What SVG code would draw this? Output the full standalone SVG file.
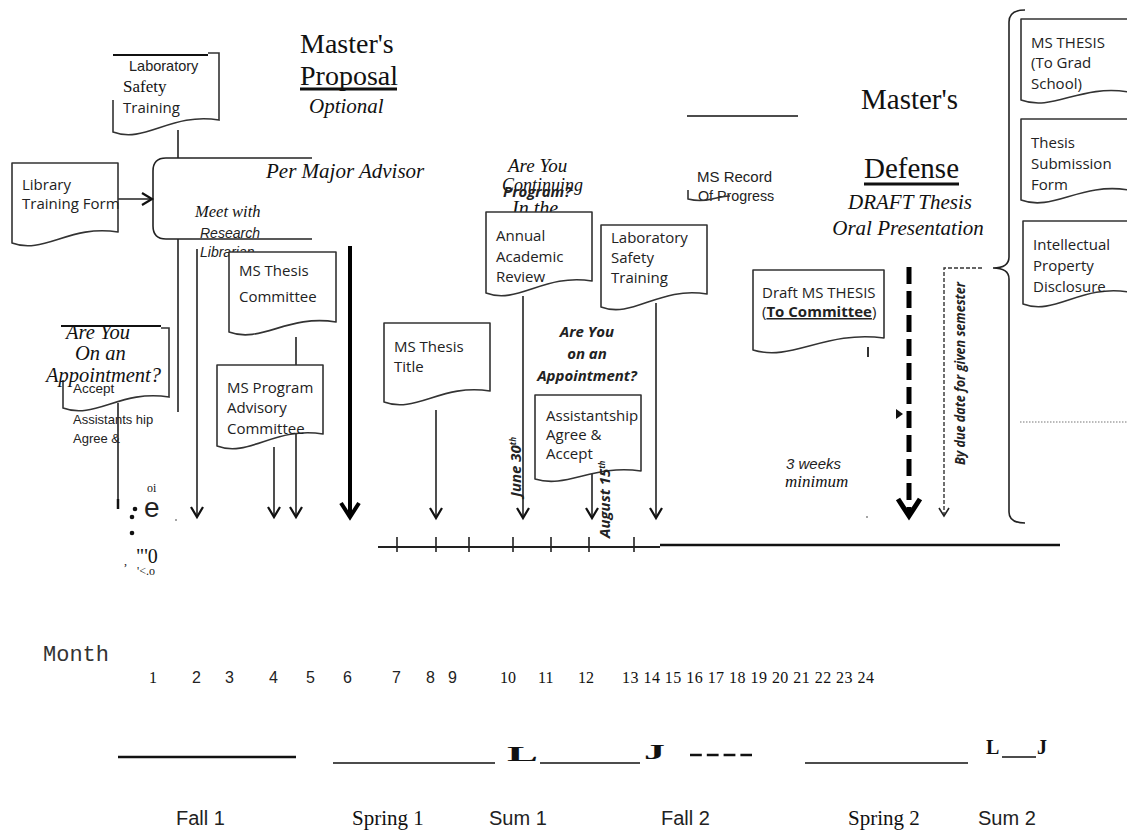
<svg xmlns="http://www.w3.org/2000/svg" width="1127" height="834" viewBox="0 0 1127 834">
<style>
.doc{fill:#fff;stroke:#333;stroke-width:1.6;stroke-linejoin:round}
.open{fill:none;stroke:#333;stroke-width:1.6}
.t{font-family:"Open Sans","Noto Sans",sans-serif;font-size:15px;fill:#222}
.ar{font-family:"Liberation Sans",Arial,sans-serif;fill:#222}
.se{font-family:"Liberation Serif","Times New Roman",serif;fill:#111}
.mo{font-family:"Liberation Mono","Courier New",monospace;fill:#333}
.it{font-style:italic}
.bi{font-style:italic;font-weight:bold}
.c{stroke:#222;stroke-width:1.6;fill:none}
.bar{stroke:#111;fill:none}
</style>
<defs>
<marker id="ah" markerUnits="userSpaceOnUse" orient="auto" overflow="visible" markerWidth="1" markerHeight="1"><path d="M -10 -6 L 0 0 L -10 6" fill="none" stroke="#111" stroke-width="2.2"/></marker>
<marker id="ahb" markerUnits="userSpaceOnUse" orient="auto" overflow="visible" markerWidth="1" markerHeight="1"><path d="M -14 -9 L 0 0 L -14 9" fill="none" stroke="#000" stroke-width="4"/></marker>
<marker id="ahd" markerUnits="userSpaceOnUse" orient="auto" overflow="visible" markerWidth="1" markerHeight="1"><path d="M -17 -11 L 0 0 L -17 11" fill="none" stroke="#000" stroke-width="5"/></marker>
<marker id="ahs" markerUnits="userSpaceOnUse" orient="auto" overflow="visible" markerWidth="1" markerHeight="1"><path d="M -8 -5 L 0 0 L -8 5" fill="none" stroke="#222" stroke-width="1.6"/></marker>
</defs>

<!-- headings -->
<g id="heading-proposal">
<text class="se" x="300" y="53" font-size="28">Master's</text>
<text class="se" x="300" y="85" font-size="28">Proposal</text>
<line x1="300" y1="89" x2="397" y2="89" stroke="#111" stroke-width="3"/>
<text class="se it" x="309" y="113" font-size="21">Optional</text>
</g>
<g id="heading-defense">
<line x1="687" y1="116" x2="798" y2="116" stroke="#111" stroke-width="1.6"/>
<text class="se" x="861" y="109" font-size="29">Master's</text>
<text class="se" x="864" y="178" font-size="29">Defense</text>
<line x1="864" y1="184" x2="959" y2="184" stroke="#111" stroke-width="3"/>
<text class="se it" x="910" y="209" font-size="21" text-anchor="middle">DRAFT Thesis</text>
<text class="se it" x="908" y="235" font-size="21" text-anchor="middle">Oral Presentation</text>
</g>

<!-- connectors -->
<g id="connectors">
<line class="c" x1="178" y1="130" x2="178" y2="158"/>
<path class="c" d="M 192 158 H 166 Q 153 158 153 171 V 226 Q 153 239 166 239 H 192"/>
<line class="c" x1="192" y1="158" x2="312" y2="158"/>
<line class="c" x1="192" y1="239" x2="312" y2="239"/>
<line class="c" x1="118" y1="199" x2="152" y2="199" marker-end="url(#ah)"/>
<line class="c" x1="178" y1="239" x2="178" y2="412"/>
<line class="c" x1="197" y1="249" x2="197" y2="517" marker-end="url(#ah)"/>
<line class="c" x1="296" y1="337" x2="296" y2="365"/>
<line class="c" x1="274" y1="447" x2="274" y2="517" marker-end="url(#ah)"/>
<line class="c" x1="296" y1="432" x2="296" y2="517" stroke-width="2" marker-end="url(#ah)"/>
<line x1="350" y1="246" x2="350" y2="517" stroke="#000" stroke-width="4" marker-end="url(#ahb)"/>
<line class="c" x1="118" y1="403" x2="118" y2="509"/>
<line x1="118" y1="499" x2="118" y2="509" stroke="#111" stroke-width="2.5"/>
<line class="c" x1="436" y1="410" x2="436" y2="518" marker-end="url(#ah)"/>
<line class="c" x1="523" y1="296" x2="523" y2="518" marker-end="url(#ah)"/>
<line class="c" x1="592" y1="472" x2="592" y2="518" marker-end="url(#ah)"/>
<line class="c" x1="656" y1="303" x2="656" y2="518" marker-end="url(#ah)"/>
<line x1="909" y1="267" x2="909" y2="516" stroke="#000" stroke-width="5" stroke-dasharray="17 7" marker-end="url(#ahd)"/>
<polygon points="896,409 903,414 896,419" fill="#111"/>
<path d="M 982 268 H 944 V 516" fill="none" stroke="#333" stroke-width="1.4" stroke-dasharray="4 2" marker-end="url(#ahs)"/>
<path class="c" d="M 1025 10 Q 1009 10 1009 22 V 257 Q 1009 268 993 268 Q 1009 268 1009 279 V 512 Q 1009 523 1025 523"/>
<line x1="1020" y1="422" x2="1127" y2="422" stroke="#777" stroke-width="1.2" stroke-dasharray="1.5 1.5"/>
<line x1="868" y1="347" x2="868" y2="357" stroke="#333" stroke-width="2"/>
<!-- timeline -->
<line x1="378" y1="547" x2="660" y2="547" stroke="#222" stroke-width="2"/>
<line x1="660" y1="545" x2="1060" y2="545" stroke="#111" stroke-width="2.6"/>
<g stroke="#222" stroke-width="1.6">
<line x1="397" y1="537" x2="397" y2="552"/>
<line x1="436" y1="537" x2="436" y2="552"/>
<line x1="469" y1="537" x2="469" y2="552"/>
<line x1="513" y1="537" x2="513" y2="552"/>
<line x1="551" y1="537" x2="551" y2="552"/>
<line x1="589" y1="537" x2="589" y2="552"/>
<line x1="634" y1="537" x2="634" y2="552"/>
</g>
</g>

<!-- nodes -->
<g id="lab-safety-1">
<line x1="113" y1="55" x2="208" y2="55" stroke="#111" stroke-width="2"/>
<path class="open" d="M 208 53 H 219 V 120 C 171 112, 145 144, 113 132 V 100"/>
<text class="ar" x="129" y="71" font-size="14.5">Laboratory</text>
<text class="se" x="123" y="92" font-size="17">Safety</text>
<text class="t" x="123" y="113">Training</text>
</g>
<g id="library-form">
<path class="doc" d="M 12 243 C 44 255, 70 224, 118 232 V 163 H 12 Z"/>
<text class="t" x="22" y="190" font-size="14">Library</text>
<text class="t" x="22" y="209" font-size="13.6">Training Form</text>
</g>
<g id="per-major-advisor">
<text class="se it" x="266" y="178" font-size="21">Per Major Advisor</text>
<text class="se it" x="195" y="217" font-size="16.5">Meet with</text>
<text class="ar it" x="200" y="238" font-size="14">Research</text>
<text class="ar it" x="200" y="257" font-size="14">Librarian</text>
</g>
<g id="ms-thesis-committee">
<path class="doc" d="M 229 332 C 261 344, 288 314, 336 322 V 252 H 229 Z"/>
<text class="t" x="239" y="276">MS Thesis</text>
<text class="t" x="239" y="302">Committee</text>
</g>
<g id="ms-program-advisory">
<path class="doc" d="M 217 446 C 249 458, 275 426, 323 434 V 365 H 217 Z"/>
<text class="t" x="227" y="393">MS Program</text>
<text class="t" x="227" y="413">Advisory</text>
<text class="t" x="227" y="434">Committee</text>
</g>
<g id="appointment-1">
<line x1="61" y1="326" x2="161" y2="326" stroke="#111" stroke-width="2"/>
<path class="open" d="M 161 328 H 169 V 397 C 121 389, 95 420, 63 408 V 380"/>
<text class="se it" x="66" y="339" font-size="20.5">Are You</text>
<text class="se it" x="75" y="360" font-size="20.5">On an</text>
<text class="se it" x="46" y="382" font-size="20.5">Appointment?</text>
<text class="ar" x="73" y="393" font-size="13.5">Accept</text>
<text class="ar" x="73" y="424" font-size="13">Assistants hip</text>
<text class="ar" x="73" y="443" font-size="13">Agree &amp;</text>
</g>
<g id="stray-marks">
<circle cx="135" cy="509" r="2.3" fill="#111"/>
<circle cx="132" cy="517" r="2.3" fill="#111"/>
<circle cx="132" cy="533" r="2.3" fill="#111"/>
<circle cx="176" cy="520" r="0.8" fill="#333"/>
<circle cx="867" cy="517" r="0.8" fill="#333"/>
<text class="se" x="147" y="492" font-size="12">oi</text>
<text class="ar" x="144" y="517" font-size="28">e</text>
<text class="se" x="136" y="563" font-size="20">"'0</text>
<text class="se" x="124" y="565" font-size="12">,</text>
<text class="se" x="137" y="575" font-size="12">'&lt;.o</text>
</g>
<g id="ms-thesis-title">
<path class="doc" d="M 384 402 C 416 414, 442 383, 490 391 V 323 H 384 Z"/>
<text class="t" x="394" y="352">MS Thesis</text>
<text class="t" x="394" y="372">Title</text>
</g>
<g id="continuing-question">
<text class="se it" x="508" y="172" font-size="19">Are You</text>
<text class="se it" x="502" y="191" font-size="18">Continuing</text>
<text class="t bi" x="503" y="197" font-size="15.5">Program?</text>
<text class="se it" x="512" y="215" font-size="20">In the</text>
</g>
<g id="annual-review">
<path class="doc" d="M 486 293 C 518 305, 544 273, 592 281 V 212 H 486 Z"/>
<text class="t" x="496" y="241">Annual</text>
<text class="t" x="496" y="262">Academic</text>
<text class="t" x="496" y="282">Review</text>
</g>
<g id="lab-safety-2">
<path class="doc" d="M 601 307 C 633 319, 659 286, 707 294 V 225 H 601 Z"/>
<text class="t" x="611" y="243">Laboratory</text>
<text class="t" x="611" y="263">Safety</text>
<text class="t" x="611" y="283">Training</text>
</g>
<g id="appointment-2">
<text class="t bi" x="587" y="337" font-size="17" text-anchor="middle">Are You</text>
<text class="t bi" x="587" y="359" font-size="17" text-anchor="middle">on an</text>
<text class="t bi" x="587" y="381" font-size="17" text-anchor="middle">Appointment?</text>
</g>
<g id="assistantship">
<path class="doc" d="M 535 479 C 567 489, 593 464, 641 471 V 395 H 535 Z"/>
<text class="t" x="546" y="421">Assistantship</text>
<text class="t" x="546" y="440">Agree &amp;</text>
<text class="t" x="546" y="459">Accept</text>
</g>
<g id="date-labels">
<text class="t bi" font-size="12" transform="translate(521,497) rotate(-90)">June 30<tspan font-size="8" dy="-5">th</tspan></text>
<text class="t bi" font-size="12" transform="translate(610,538) rotate(-90)">August 15<tspan font-size="8" dy="-5">th</tspan></text>
<text class="t bi" font-size="12" textLength="183" lengthAdjust="spacingAndGlyphs" transform="translate(965,465) rotate(-90)">By due date for given semester</text>
</g>
<g id="ms-record">
<text class="ar" x="697" y="182" font-size="15">MS Record</text>
<text class="ar" x="698" y="201" font-size="14.3">Of Progress</text>
<path class="open" d="M 688 190 V 199 Q 700 202 712 199 T 730 196"/>
</g>
<g id="draft-thesis">
<path class="doc" d="M 753 350 C 792 362, 825 330, 884 338 V 270 H 753 Z"/>
<text class="t" x="762" y="298" font-size="14.5">Draft MS THESIS</text>
<text class="t" x="762" y="317" font-size="14.5">(<tspan font-weight="bold" text-decoration="underline">To Committee</tspan>)</text>
</g>
<g id="three-weeks">
<text class="ar it" x="786" y="469" font-size="15">3 weeks</text>
<text class="se it" x="785" y="487" font-size="17">minimum</text>
</g>
<g id="ms-thesis-grad">
<path class="doc" d="M 1021 100 C 1053 112, 1080 84, 1129 92 V 19 H 1021 Z"/>
<text class="t" x="1031" y="48">MS THESIS</text>
<text class="t" x="1031" y="68">(To Grad</text>
<text class="t" x="1031" y="89">School)</text>
</g>
<g id="thesis-submission">
<path class="doc" d="M 1021 200 C 1053 212, 1080 182, 1129 190 V 119 H 1021 Z"/>
<text class="t" x="1031" y="148">Thesis</text>
<text class="t" x="1031" y="169">Submission</text>
<text class="t" x="1031" y="190">Form</text>
</g>
<g id="ip-disclosure">
<path class="doc" d="M 1023 304 C 1055 316, 1081 284, 1129 292 V 221 H 1023 Z"/>
<text class="t" x="1033" y="250">Intellectual</text>
<text class="t" x="1033" y="271">Property</text>
<text class="t" x="1033" y="292">Disclosure</text>
</g>

<!-- month scale -->
<g id="month-scale">
<text class="mo" x="43" y="661" font-size="22">Month</text>
<g font-size="16">
<text class="se" x="149" y="683">1</text>
<text class="ar" x="192" y="683">2</text>
<text class="ar" x="225" y="683">3</text>
<text class="ar" x="269" y="683">4</text>
<text class="ar" x="306" y="683">5</text>
<text class="ar" x="343" y="683">6</text>
<text class="ar" x="392" y="683">7</text>
<text class="ar" x="426" y="683">8</text>
<text class="ar" x="448" y="683">9</text>
<text class="se" x="500" y="683">10</text>
<text class="se" x="538" y="683">11</text>
<text class="se" x="578" y="683">12</text>
<text class="se" x="622" y="683" textLength="252">13 14 15 16 17 18 19 20 21 22 23 24</text>
</g>
</g>
<g id="semesters">
<line class="bar" x1="118" y1="757" x2="296" y2="757" stroke-width="2.6"/>
<line class="bar" x1="333" y1="763" x2="495" y2="763" stroke-width="1.3"/>
<text class="se" x="507" y="761" font-size="22" font-weight="bold" textLength="31" lengthAdjust="spacingAndGlyphs">L</text>
<line class="bar" x1="540" y1="763" x2="640" y2="763" stroke-width="1.3"/>
<text class="se" x="644" y="759" font-size="21" font-weight="bold" textLength="21" lengthAdjust="spacingAndGlyphs">J</text>
<line class="bar" x1="690" y1="755" x2="752" y2="755" stroke-width="2.5" stroke-dasharray="11.8 5"/>
<line class="bar" x1="805" y1="763" x2="968" y2="763" stroke-width="1.3"/>
<text class="se" x="986" y="754" font-size="20" font-weight="bold">L</text>
<line class="bar" x1="1002" y1="757" x2="1036" y2="757" stroke-width="1.5"/>
<text class="se" x="1037" y="754" font-size="20" font-weight="bold">J</text>
<text class="ar" x="176" y="825" font-size="20">Fall 1</text>
<text class="se" x="352" y="825" font-size="21">Spring 1</text>
<text class="ar" x="489" y="825" font-size="20">Sum 1</text>
<text class="ar" x="661" y="825" font-size="20">Fall 2</text>
<text class="se" x="848" y="825" font-size="21">Spring 2</text>
<text class="ar" x="978" y="825" font-size="20">Sum 2</text>
</g>
</svg>
